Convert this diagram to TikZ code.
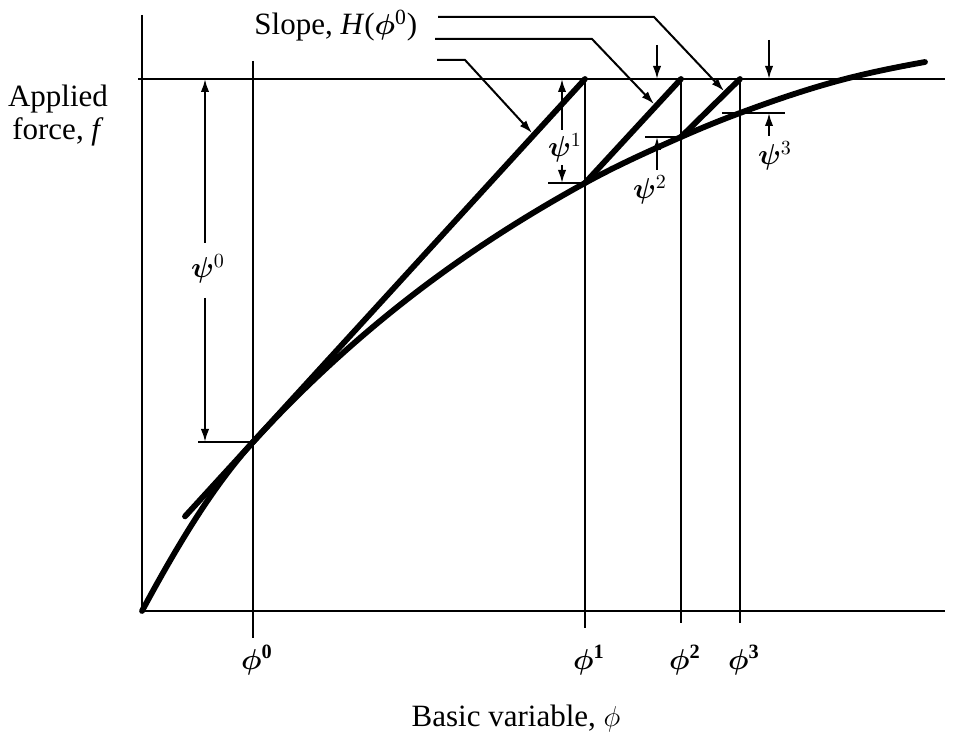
\documentclass[tikz,border=0pt]{standalone}
\usepackage{fontspec}
\setmainfont{Liberation Serif}
\usepackage{bm}
\usetikzlibrary{arrows.meta}
\begin{document}
\begin{tikzpicture}[x=0.5pt,y=-0.5pt,
  thinln/.style={line width=1pt},
  heavyln/.style={line width=2.9pt, line cap=round},
  dimarrow/.style={thinln,-{Latex[length=6.5pt,width=4.2pt]}},
  lbl/.style={font=\fontsize{15.5}{18}\selectfont, inner sep=0pt},
  sym/.style={font=\fontsize{14.5}{17}\selectfont, inner sep=0pt},
]
\useasboundingbox (0,0) rectangle (953,737);
% key points
\coordinate (O) at (142,611);
\coordinate (Xend) at (945,611);
\coordinate (Ytop) at (142,15);
\coordinate (TL) at (138,79);
\coordinate (TR) at (945,79);
\coordinate (v0t) at (253,61);  \coordinate (v0b) at (253,638);
\coordinate (v1t) at (585,79);  \coordinate (v1b) at (585,628);
\coordinate (v2t) at (681,79);  \coordinate (v2b) at (681,623);
\coordinate (v3t) at (740,79);  \coordinate (v3b) at (740,623);
\coordinate (P0) at (253,442);
\coordinate (P1) at (585,183);
\coordinate (P2) at (681,137);
\coordinate (P3) at (740,113);
\coordinate (P4) at (845,79);
\coordinate (E) at (925,62);
\coordinate (T0s) at (185,516.4);
% axes and guide lines
\draw[thinln] (Ytop) -- (O) -- (Xend);
\draw[thinln] (TL) -- (TR);
\draw[thinln] (v0t) -- (v0b);
\draw[thinln] (v1t) -- (v1b);
\draw[thinln] (v2t) -- (v2b);
\draw[thinln] (v3t) -- (v3b);
% curve
\draw[heavyln] (O) .. controls (177,546) and (213,486) .. (P0)
  .. controls (363,322) and (475,243.5) .. (P1)
  .. controls (617,165.4) and (649,151.1) .. (P2)
  .. controls (700.7,128.3) and (720.3,120.3) .. (P3)
  .. controls (775,100) and (810,88.1) .. (P4)
  .. controls (871.7,72.1) and (898.3,66.8) .. (E);
% slope lines
\draw[heavyln] (T0s) -- (v1t);
\draw[heavyln] (P1) -- (v2t);
\draw[heavyln] (P2) -- (v3t);
% psi0
\coordinate (a0u) at (205,243); \coordinate (a0ut) at (205,79);
\coordinate (a0d) at (205,298); \coordinate (a0dt) at (205,442);
\coordinate (k0) at (198,442);
\draw[dimarrow] (a0u) -- (a0ut);
\draw[dimarrow] (a0d) -- (a0dt);
\draw[thinln] (k0) -- (P0);
\node[sym] (psi0) at (208,269) {$\bm{\psi}^{0}$};
% psi1
\coordinate (a1u) at (562,130); \coordinate (a1ut) at (562,79);
\coordinate (a1d) at (562,165); \coordinate (a1dt) at (562,183);
\coordinate (k1) at (548,183);
\draw[dimarrow] (a1u) -- (a1ut);
\draw[dimarrow] (a1d) -- (a1dt);
\draw[thinln] (k1) -- (P1);
\node[sym] (psi1) at (565,148) {$\bm{\psi}^{1}$};
% psi2
\coordinate (a2u) at (657,45); \coordinate (a2ut) at (657,79);
\coordinate (a2d) at (657,170); \coordinate (a2dt) at (657,137);
\coordinate (k2) at (645,137);
\draw[dimarrow] (a2u) -- (a2ut);
\draw[dimarrow] (a2d) -- (a2dt);
\draw[thinln] (k2) -- (P2);
\node[sym] (psi2) at (650,190) {$\bm{\psi}^{2}$};
% psi3
\coordinate (a3u) at (769,40); \coordinate (a3ut) at (769,79);
\coordinate (a3d) at (769,136); \coordinate (a3dt) at (769,113);
\coordinate (k3a) at (722,113); \coordinate (k3b) at (785,113);
\draw[dimarrow] (a3u) -- (a3ut);
\draw[dimarrow] (a3d) -- (a3dt);
\draw[thinln] (k3a) -- (k3b);
\node[sym] (psi3) at (775,156) {$\bm{\psi}^{3}$};
% slope label and leaders
\node[lbl, anchor=base west] (slope) at (254,35) {Slope, \textit{H}($\bm{\phi}^{\mathrm{0}}$)};
\coordinate (LA0) at (438,17); \coordinate (LA1) at (654,17); \coordinate (LA2) at (724,91);
\coordinate (LB0) at (435,39); \coordinate (LB1) at (592,39); \coordinate (LB2) at (654,104);
\coordinate (LC0) at (437,60); \coordinate (LC1) at (465,60); \coordinate (LC2) at (532,133);
\draw[dimarrow] (LA0) -- (LA1) -- (LA2);
\draw[dimarrow] (LB0) -- (LB1) -- (LB2);
\draw[dimarrow] (LC0) -- (LC1) -- (LC2);
% axis labels
\node[lbl, anchor=base] (app) at (58,107) {Applied};
\node[lbl, anchor=base] (force) at (58,140) {force, \textit{f}};
\node[lbl, anchor=base] (basic) at (516,726) {Basic variable, $\phi$};
\node[sym, anchor=base] (phi0) at (257,669) {$\bm{\phi}^{\mathbf{0}}$};
\node[sym, anchor=base] (phi1) at (589,669) {$\bm{\phi}^{\mathbf{1}}$};
\node[sym, anchor=base] (phi2) at (685,669) {$\bm{\phi}^{\mathbf{2}}$};
\node[sym, anchor=base] (phi3) at (744,669) {$\bm{\phi}^{\mathbf{3}}$};
\end{tikzpicture}
\end{document}
